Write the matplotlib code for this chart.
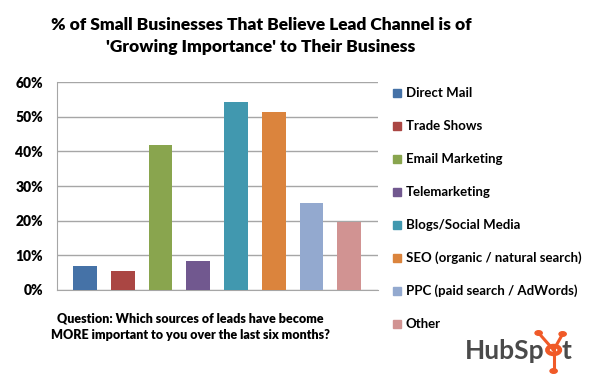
import matplotlib.pyplot as plt
from matplotlib.patches import Circle
from matplotlib.lines import Line2D

CHANNELS = ["Direct Mail", "Trade Shows", "Email Marketing", "Telemarketing",
            "Blogs/Social Media", "SEO (organic / natural search)",
            "PPC (paid search / AdWords)", "Other"]
VALUES = [7.0, 5.5, 41.8, 8.4, 54.2, 51.4, 25.1, 19.6]
COLORS = ["#4572A7", "#AA4643", "#89A54E", "#71588F",
          "#4198AF", "#DB843D", "#93A9CF", "#D19392"]
YTICKS = [0, 10, 20, 30, 40, 50, 60]

plt.rcParams["font.family"] = ["Lato", "DejaVu Sans"]

fig = plt.figure(figsize=(6, 3.8), dpi=100)
ax = fig.add_axes([0.095, 0.237, 0.535, 0.547])

xs = list(range(len(VALUES)))
ax.bar(xs, VALUES, width=0.63, color=COLORS, zorder=3)
ax.set_xlim(-0.74, 7.76)
ax.set_ylim(0, 60)
ax.set_yticks(YTICKS)
ax.set_yticklabels([f"{t}%" for t in YTICKS], fontsize=10, fontweight="heavy")
ax.set_xticks([])
ax.tick_params(axis="y", length=0, pad=10)
ax.yaxis.grid(True, color="#a6a6a6", linewidth=1, zorder=0)
for s in ["top", "right"]:
    ax.spines[s].set_visible(False)
for s in ["left", "bottom"]:
    ax.spines[s].set_color("#a6a6a6")

fig.text(0.435, 1 - 36 / 380, "% of Small Businesses That Believe Lead Channel is of\n'Growing Importance' to Their Business",
         ha="center", va="center", fontsize=12.5, fontweight="heavy", linespacing=1.4)

fig.text(0.317, 0.14, "Question: Which sources of leads have become\nMORE important to you over the last six months?",
         ha="center", va="center", fontsize=9, fontweight="heavy", linespacing=1.45)

# legend
for i, (name, col) in enumerate(zip(CHANNELS, COLORS)):
    y = 1 - (92.7 + 33 * i) / 380
    fig.patches.append(plt.Rectangle((393 / 600, y - 4 / 380), 8 / 600, 8 / 380,
                                     transform=fig.transFigure, color=col))
    fig.text(406 / 600, y, name, ha="left", va="center", fontsize=9.5, fontweight="bold")

# HubSpot logo
gray = "#4a4a4a"
orange = "#F05A28"
base = 1 - 359 / 380
hub = fig.text(465 / 600, base, "HubSp", ha="left", va="baseline",
               fontsize=19, fontweight="bold", color=gray)
r = fig.canvas.get_renderer()
x_end = hub.get_window_extent(r).x1
cx_px = x_end + 9
fig.text((cx_px + 8) / 600, base, "t", ha="left", va="baseline",
         fontsize=19, fontweight="bold", color=gray)
cx, cy = cx_px / 600, 1 - 350 / 380
for dx, dy in [(-15, -17), (9, -16), (0, 21)]:
    ex, ey = cx + dx / 600, cy - dy / 380
    fig.add_artist(Line2D([cx, ex], [cy, ey], transform=fig.transFigure,
                          color=orange, linewidth=2.2))
    fig.add_artist(Circle((ex, ey), 0.006, transform=fig.transFigure, color=orange))
fig.add_artist(Circle((cx, cy), 0.0105, transform=fig.transFigure,
                      facecolor="white", edgecolor=orange, linewidth=3.2))

fig.savefig("out.png", dpi=100)
